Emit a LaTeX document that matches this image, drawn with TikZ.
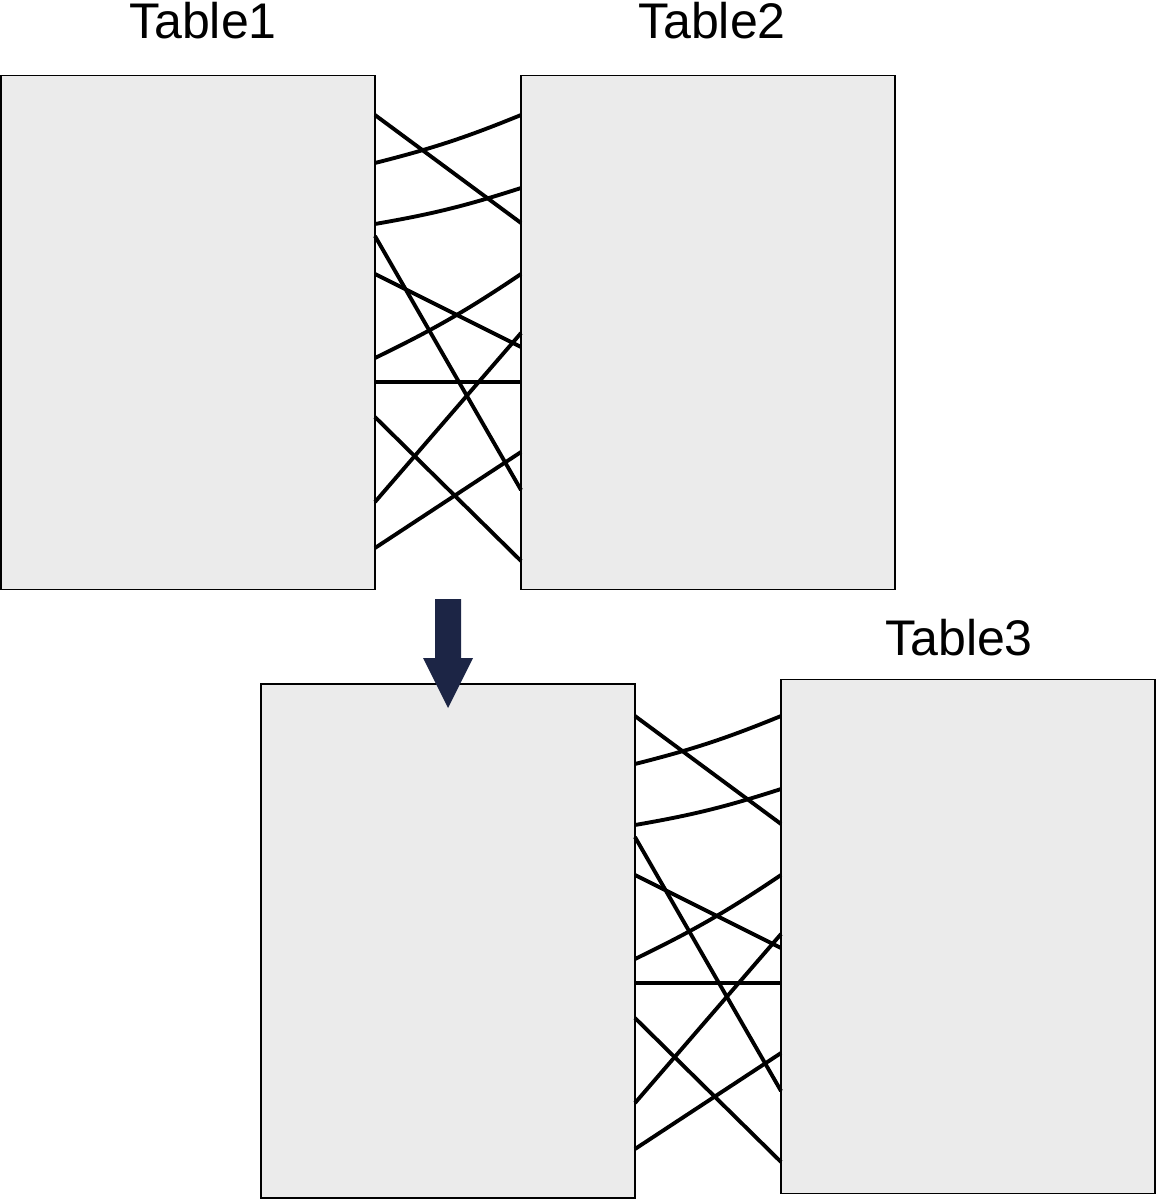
\documentclass[tikz,border=0pt]{standalone}
\usepackage{fontspec}
\setmainfont{Liberation Sans}
\usetikzlibrary{positioning}
\definecolor{boxgray}{HTML}{EBEBEB}
\definecolor{arrownavy}{HTML}{1C2545}
\tikzset{
  tablebox/.style={draw, line width=1pt, fill=boxgray, inner sep=0pt, outer sep=0pt,
    minimum width=7.48cm, minimum height=10.28cm},
  tabletitle/.style={anchor=base, inner sep=0pt, font=\fontsize{28.5}{34}\selectfont},
  link/.style={line width=2.2pt}
}
\begin{document}
\begin{tikzpicture}[x=0.02cm, y=-0.02cm]
\useasboundingbox (0,0) rectangle (1156,1200);
% Tabellen oben
\node[tablebox] (t1) at (188,332.5) {};
\node[tablebox] (t2) at (708,332.5) {};
\node[tabletitle] (l1) at (203,38) {Table1};
\node[tabletitle] (l2) at (712,38) {Table2};
% Ergebnis und Tabelle 3
\node[tablebox] (mid) at (448,941) {};
\node[tablebox] (t3) at (968,936.5) {};
\node[tabletitle] (l3) at (959,655) {Table3};
% Verbindungen, unten um 601 nach unten verschoben
\foreach \a/\b/\dy in {t1/t2/0, mid/t3/601} {
  \foreach \l/\r in {115/223, 236/490, 274/347, 382/382, 417/561, 502/333, 548/452}
    \draw[link] (\a.east |- 0,\l+\dy) -- (\b.west |- 0,\r+\dy);
  \foreach \l/\r in {163/115, 224/188, 358/274}
    \draw[link] (\a.east |- 0,\l+\dy) to[bend right=4] (\b.west |- 0,\r+\dy);
}
% Pfeil
\fill[arrownavy] (435,599) -- (461,599) -- (461,658) -- (473,658) -- (448,708)
  -- (423,658) -- (435,658) -- cycle;
\end{tikzpicture}
\end{document}
